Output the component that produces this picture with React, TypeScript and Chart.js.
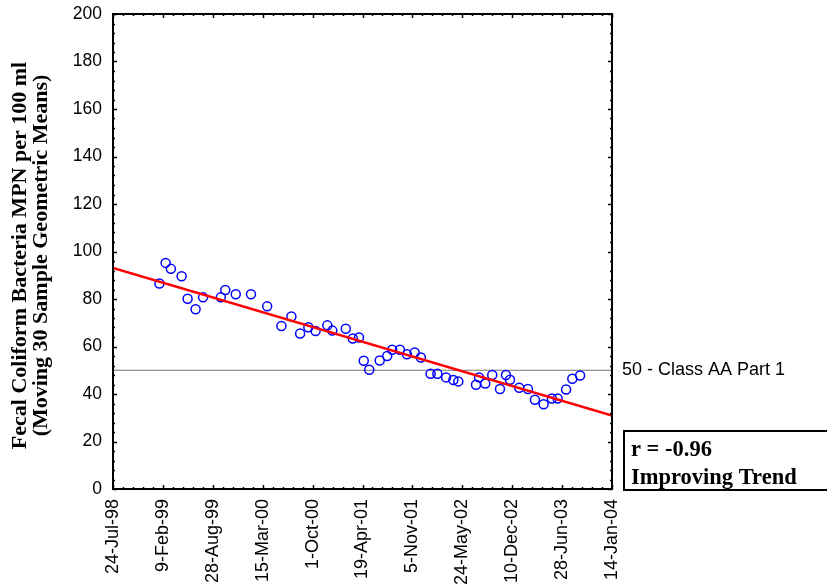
import React, { useEffect, useRef } from "react";
import { Chart, registerables } from "chart.js";

Chart.register(...registerables);

// x values: days since 24-Jul-98
const xTickLabels = [
  "24-Jul-98", "9-Feb-99", "28-Aug-99", "15-Mar-00", "1-Oct-00", "19-Apr-01",
  "5-Nov-01", "24-May-02", "10-Dec-02", "28-Jun-03", "14-Jan-04",
];
const dayOffsets = [
  186, 211, 232, 275, 299, 331, 361, 432, 450, 492, 553, 618, 675, 715, 750, 783,
  812, 859, 879, 933, 961, 986, 1005, 1027, 1069, 1099, 1119, 1150, 1178, 1209,
  1234, 1273, 1300, 1335, 1364, 1384, 1455, 1467, 1492, 1520, 1551, 1575, 1591,
  1628, 1663, 1691, 1726, 1759, 1782, 1816, 1841, 1872,
];
const geoMeans = [
  86.5, 95.2, 92.7, 89.6, 80.1, 75.7, 80.7, 80.7, 83.8, 82.0, 82.0, 76.9, 68.6,
  72.6, 65.5, 68.1, 66.5, 68.9, 66.7, 67.5, 63.4, 63.8, 54.0, 50.2, 54.1, 56.0,
  58.6, 58.6, 56.7, 57.5, 55.4, 48.5, 48.5, 47.0, 45.9, 45.3, 43.9, 47.0, 44.4,
  48.0, 42.1, 48.0, 46.0, 42.6, 42.1, 37.6, 35.7, 38.1, 38.1, 41.9, 46.4, 47.8,
];
const trendX = [0, 2000];
const trendY = [93.1, 30.9];
const standardValue = 50;
const standardLabel = "50 - Class AA Part 1";
const statLines = ["r = -0.96", "Improving Trend"];
const yTitle = [
  "Fecal Coliform Bacteria MPN per 100 ml",
  "(Moving 30 Sample Geometric Means)",
];

const X_MIN = 0, X_MAX = 2000, X_STEP = 200, X_MINOR = 40;
const Y_MIN = 0, Y_MAX = 200, Y_STEP = 20, Y_MINOR = 4;

const framePlugin = {
  id: "frame",
  afterDraw(chart: any) {
    const { ctx, chartArea: a, scales } = chart;
    const xs = scales.x, ys = scales.y;
    ctx.save();
    // ticks inward on all sides
    ctx.strokeStyle = "#000";
    ctx.lineWidth = 1.5;
    ctx.beginPath();
    for (let v = X_MIN; v <= X_MAX; v += X_MINOR) {
      const px = Math.round(xs.getPixelForValue(v)) + 0.5;
      const len = v % X_STEP === 0 ? 4 : 2;
      ctx.moveTo(px, a.bottom); ctx.lineTo(px, a.bottom - len);
      ctx.moveTo(px, a.top); ctx.lineTo(px, a.top + len);
    }
    for (let v = Y_MIN; v <= Y_MAX; v += Y_MINOR) {
      const py = Math.round(ys.getPixelForValue(v)) + 0.5;
      const len = v % Y_STEP === 0 ? 4 : 2;
      ctx.moveTo(a.left, py); ctx.lineTo(a.left + len, py);
      ctx.moveTo(a.right, py); ctx.lineTo(a.right - len, py);
    }
    ctx.stroke();
    // frame
    ctx.lineWidth = 2;
    ctx.strokeRect(a.left, a.top, a.right - a.left, a.bottom - a.top);

    // standard label
    ctx.fillStyle = "#000";
    ctx.font = "18px 'Liberation Sans', Arial, sans-serif";
    ctx.textAlign = "left";
    ctx.textBaseline = "middle";
    ctx.fillText(standardLabel, a.right + 10, ys.getPixelForValue(standardValue));

    // stat box
    const bx = a.right + 12, by = 431, bw = 240, bh = 59;
    ctx.lineWidth = 2;
    ctx.strokeRect(bx, by, bw, bh);
    ctx.font = "bold 22.5px 'Liberation Serif', 'Times New Roman', serif";
    ctx.textBaseline = "alphabetic";
    ctx.fillText(statLines[0], bx + 7, by + 25);
    ctx.fillText(statLines[1], bx + 7, by + 53);

    // y title
    const cy = (a.top + a.bottom) / 2 + 4;
    ctx.font = "bold 22px 'Liberation Serif', 'Times New Roman', serif";
    ctx.textAlign = "center";
    ctx.textBaseline = "middle";
    ctx.translate(20, cy);
    ctx.rotate(-Math.PI / 2);
    ctx.fillText(yTitle[0], 0, 0);
    ctx.fillText(yTitle[1], 0, 21);
    ctx.restore();
  },
};

export default function App() {
  const ref = useRef<HTMLCanvasElement | null>(null);
  useEffect(() => {
    if (!ref.current) return;
    const chart = new Chart(ref.current, {
      type: "scatter",
      data: {
        datasets: [
          {
            type: "line",
            data: [
              { x: X_MIN, y: standardValue },
              { x: X_MAX, y: standardValue },
            ],
            borderColor: "#707070",
            borderWidth: 1,
            pointRadius: 0,
            order: 3,
          },
          {
            data: dayOffsets.map((d, i) => ({ x: d, y: geoMeans[i] })),
            pointStyle: "circle",
            pointRadius: 4.5,
            pointBorderWidth: 1.5,
            borderColor: "#0000ff",
            backgroundColor: "rgba(0,0,0,0)",
            order: 2,
          },
          {
            type: "line",
            data: trendX.map((x, i) => ({ x, y: trendY[i] })),
            borderColor: "#ff0000",
            borderWidth: 2.5,
            pointRadius: 0,
            order: 1,
          },
        ],
      },
      options: {
        animation: false,
        responsive: false,
        layout: { padding: { left: 0, right: 215, top: 14, bottom: 0 } },
        plugins: { legend: { display: false }, tooltip: { enabled: false } },
        scales: {
          x: {
            type: "linear",
            min: X_MIN,
            max: X_MAX,
            border: { display: false },
            grid: { display: false, drawTicks: false },
            afterFit: (s: any) => {
              s.height = 96;
              s.paddingLeft = 0;
              s.paddingRight = 0;
            },
            ticks: {
              stepSize: X_STEP,
              autoSkip: false,
              maxRotation: 90,
              minRotation: 90,
              padding: 10,
              color: "#000",
              font: { family: "'Liberation Sans', Arial, sans-serif", size: 18 },
              callback: (v: any) => xTickLabels[Math.round(Number(v) / X_STEP)] ?? "",
            },
          },
          y: {
            min: Y_MIN,
            max: Y_MAX,
            border: { display: false },
            grid: { display: false, drawTicks: false },
            afterFit: (s: any) => {
              s.width = 113;
              s.paddingTop = 0;
              s.paddingBottom = 0;
            },
            ticks: {
              stepSize: Y_STEP,
              padding: 11,
              color: "#000",
              font: { family: "'Liberation Sans', Arial, sans-serif", size: 17.5 },
            },
          },
        },
      },
      plugins: [framePlugin],
    });
    return () => chart.destroy();
  }, []);
  return (
    <div style={{ position: "fixed", left: 0, top: 0, width: 827, height: 585, background: "#fff" }}>
      <canvas ref={ref} width={827} height={585} />
    </div>
  );
}
